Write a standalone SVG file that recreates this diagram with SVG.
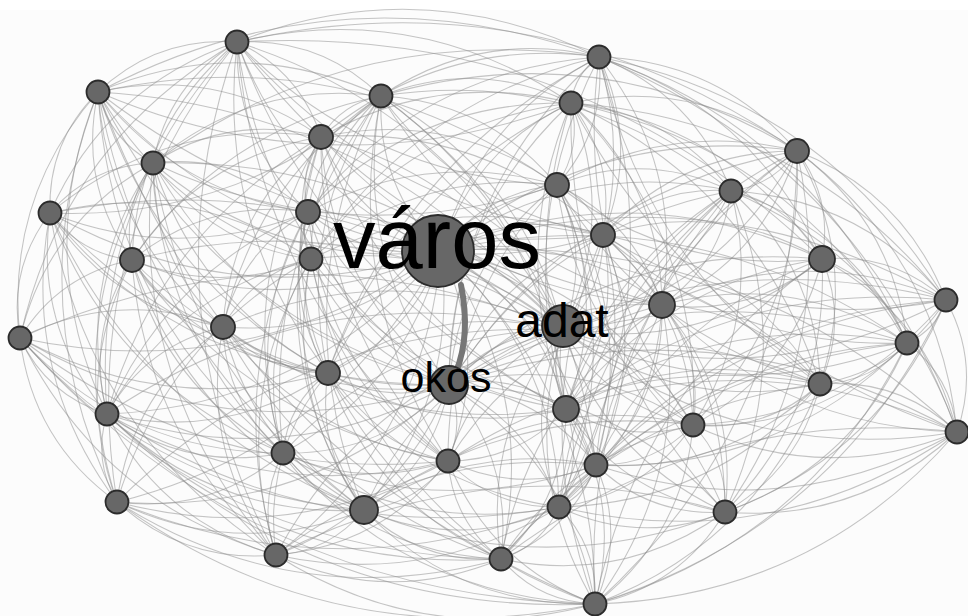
<svg xmlns="http://www.w3.org/2000/svg" xmlns:xlink="http://www.w3.org/1999/xlink" width="968" height="616" viewBox="0 0 968 616">
<style>
.bg{fill:#fcfcfc}
.ed use{stroke:#8c8c8c;stroke-opacity:.5}
.n circle{fill:#676767;stroke:#2b2b2b;stroke-width:1.8}
.lb{font-family:"Liberation Sans",Arial,sans-serif;fill:#000}
.hv{fill:none;stroke:#767676;stroke-width:6;stroke-linecap:round}
</style>
<defs>
<path id="e" d="M0 0Q.5 -.22 1 0" fill="none" stroke-width="1.05" vector-effect="non-scaling-stroke"/>
<path id="f" d="M0 0Q.5 .2 1 0" fill="none" stroke-width="1.05" vector-effect="non-scaling-stroke"/>
</defs>
<rect class="bg" x="0" y="0" width="968" height="616"/>
<rect x="0" y="0" width="968" height="10" fill="#fff"/>
<g id="connectors" class="ed">
<use href="#e" transform="matrix(139 -50 50 139 98 92)"/>
<use href="#e" transform="matrix(362 15 -15 362 237 42)"/>
<use href="#e" transform="matrix(144 54 -54 144 237 42)"/>
<use href="#e" transform="matrix(334 61 -61 334 237 42)"/>
<use href="#e" transform="matrix(84 95 -95 84 237 42)"/>
<use href="#e" transform="matrix(84 -121 121 84 153 163)"/>
<use href="#e" transform="matrix(560 109 -109 560 237 42)"/>
<use href="#e" transform="matrix(187 -171 171 187 50 213)"/>
<use href="#e" transform="matrix(-71 -170 170 -71 308 212)"/>
<use href="#e" transform="matrix(105 -218 218 105 132 260)"/>
<use href="#e" transform="matrix(585 217 -217 585 237 42)"/>
<use href="#e" transform="matrix(217 -296 296 217 20 338)"/>
<use href="#e" transform="matrix(130 -372 372 130 107 414)"/>
<use href="#e" transform="matrix(120 -460 460 120 117 502)"/>
<use href="#e" transform="matrix(-39 -513 513 -39 276 555)"/>
<use href="#e" transform="matrix(501 -35 35 501 98 92)"/>
<use href="#e" transform="matrix(283 4 -4 283 98 92)"/>
<use href="#e" transform="matrix(223 45 -45 223 98 92)"/>
<use href="#e" transform="matrix(-55 -71 71 -55 153 163)"/>
<use href="#e" transform="matrix(48 -121 121 48 50 213)"/>
<use href="#e" transform="matrix(459 93 -93 459 98 92)"/>
<use href="#e" transform="matrix(-34 -168 168 -34 132 260)"/>
<use href="#e" transform="matrix(-125 -235 235 -125 223 327)"/>
<use href="#e" transform="matrix(78 -246 246 78 20 338)"/>
<use href="#e" transform="matrix(-9 -322 322 -9 107 414)"/>
<use href="#e" transform="matrix(-19 -410 410 -19 117 502)"/>
<use href="#e" transform="matrix(-497 -512 512 -497 595 604)"/>
<use href="#e" transform="matrix(-185 -361 361 -185 283 453)"/>
<use href="#e" transform="matrix(218 -39 39 218 381 96)"/>
<use href="#e" transform="matrix(28 -46 46 28 571 103)"/>
<use href="#e" transform="matrix(198 94 -94 198 599 57)"/>
<use href="#e" transform="matrix(-42 128 -128 -42 599 57)"/>
<use href="#e" transform="matrix(132 134 -134 132 599 57)"/>
<use href="#e" transform="matrix(4 178 -178 4 599 57)"/>
<use href="#e" transform="matrix(223 202 -202 223 599 57)"/>
<use href="#e" transform="matrix(347 243 -243 347 599 57)"/>
<use href="#e" transform="matrix(278 -80 80 278 321 137)"/>
<use href="#e" transform="matrix(291 -155 155 291 308 212)"/>
<use href="#e" transform="matrix(63 248 -248 63 599 57)"/>
<use href="#e" transform="matrix(308 286 -286 308 599 57)"/>
<use href="#e" transform="matrix(358 375 -375 358 599 57)"/>
<use href="#e" transform="matrix(-40 450 -450 -40 599 57)"/>
<use href="#e" transform="matrix(190 7 -7 190 381 96)"/>
<use href="#e" transform="matrix(60 -41 41 60 321 137)"/>
<use href="#e" transform="matrix(228 -67 67 228 153 163)"/>
<use href="#e" transform="matrix(176 89 -89 176 381 96)"/>
<use href="#e" transform="matrix(73 -116 116 73 308 212)"/>
<use href="#e" transform="matrix(70 -163 163 70 311 259)"/>
<use href="#e" transform="matrix(53 -277 277 53 328 373)"/>
<use href="#e" transform="matrix(17 -414 414 17 364 510)"/>
<use href="#e" transform="matrix(416 55 -55 416 381 96)"/>
<use href="#e" transform="matrix(350 95 -95 350 381 96)"/>
<use href="#e" transform="matrix(185 313 -313 185 381 96)"/>
<use href="#e" transform="matrix(215 369 -369 215 381 96)"/>
<use href="#e" transform="matrix(226 48 -48 226 571 103)"/>
<use href="#e" transform="matrix(-14 82 -82 -14 571 103)"/>
<use href="#e" transform="matrix(160 88 -88 160 571 103)"/>
<use href="#e" transform="matrix(32 132 -132 32 571 103)"/>
<use href="#e" transform="matrix(251 156 -156 251 571 103)"/>
<use href="#e" transform="matrix(91 202 -202 91 571 103)"/>
<use href="#e" transform="matrix(375 197 -197 375 571 103)"/>
<use href="#e" transform="matrix(336 240 -240 336 571 103)"/>
<use href="#e" transform="matrix(249 281 -281 249 571 103)"/>
<use href="#e" transform="matrix(122 322 -322 122 571 103)"/>
<use href="#e" transform="matrix(263 -109 109 263 308 212)"/>
<use href="#e" transform="matrix(260 -156 156 260 311 259)"/>
<use href="#e" transform="matrix(168 -26 26 168 153 163)"/>
<use href="#e" transform="matrix(271 -76 76 271 50 213)"/>
<use href="#e" transform="matrix(13 -75 75 13 308 212)"/>
<use href="#e" transform="matrix(189 -123 123 189 132 260)"/>
<use href="#e" transform="matrix(10 -122 122 10 311 259)"/>
<use href="#e" transform="matrix(98 -190 190 98 223 327)"/>
<use href="#e" transform="matrix(38 -316 316 38 283 453)"/>
<use href="#e" transform="matrix(-43 -373 373 -43 364 510)"/>
<use href="#e" transform="matrix(236 48 -48 236 321 137)"/>
<use href="#e" transform="matrix(282 98 -98 282 321 137)"/>
<use href="#e" transform="matrix(103 -50 50 103 50 213)"/>
<use href="#e" transform="matrix(155 49 -49 155 153 163)"/>
<use href="#e" transform="matrix(21 -97 97 21 132 260)"/>
<use href="#e" transform="matrix(-70 -164 164 -70 223 327)"/>
<use href="#e" transform="matrix(133 -175 175 133 20 338)"/>
<use href="#e" transform="matrix(46 -251 251 46 107 414)"/>
<use href="#e" transform="matrix(36 -339 339 36 117 502)"/>
<use href="#e" transform="matrix(-158 -96 96 -158 311 259)"/>
<use href="#e" transform="matrix(-123 -392 392 -123 276 555)"/>
<use href="#e" transform="matrix(-66 40 -40 -66 797 151)"/>
<use href="#e" transform="matrix(25 108 -108 25 797 151)"/>
<use href="#e" transform="matrix(149 149 -149 149 797 151)"/>
<use href="#e" transform="matrix(110 192 -192 110 797 151)"/>
<use href="#e" transform="matrix(23 233 -233 23 797 151)"/>
<use href="#e" transform="matrix(160 281 -281 160 797 151)"/>
<use href="#e" transform="matrix(194 -84 84 194 603 235)"/>
<use href="#e" transform="matrix(-135 154 -154 -135 797 151)"/>
<use href="#e" transform="matrix(-104 274 -274 -104 797 151)"/>
<use href="#e" transform="matrix(-72 361 -361 -72 797 151)"/>
<use href="#e" transform="matrix(-202 453 -453 -202 797 151)"/>
<use href="#e" transform="matrix(-82 -47 47 -82 132 260)"/>
<use href="#e" transform="matrix(-173 -114 114 -173 223 327)"/>
<use href="#e" transform="matrix(30 -125 125 30 20 338)"/>
<use href="#e" transform="matrix(-57 -201 201 -57 107 414)"/>
<use href="#e" transform="matrix(-67 -289 289 -67 117 502)"/>
<use href="#e" transform="matrix(261 46 -46 261 50 213)"/>
<use href="#e" transform="matrix(-233 -240 240 -233 283 453)"/>
<use href="#e" transform="matrix(-226 -342 342 -226 276 555)"/>
<use href="#e" transform="matrix(174 6 -6 174 557 185)"/>
<use href="#e" transform="matrix(46 50 -50 46 557 185)"/>
<use href="#e" transform="matrix(246 -74 74 246 311 259)"/>
<use href="#e" transform="matrix(105 120 -120 105 557 185)"/>
<use href="#e" transform="matrix(9 224 -224 9 557 185)"/>
<use href="#e" transform="matrix(39 280 -280 39 557 185)"/>
<use href="#e" transform="matrix(2 322 -322 2 557 185)"/>
<use href="#e" transform="matrix(229 -188 188 229 328 373)"/>
<use href="#e" transform="matrix(128 -44 44 128 603 235)"/>
<use href="#e" transform="matrix(91 68 -68 91 731 191)"/>
<use href="#e" transform="matrix(-69 114 -114 -69 731 191)"/>
<use href="#e" transform="matrix(215 109 -109 215 731 191)"/>
<use href="#e" transform="matrix(176 152 -152 176 731 191)"/>
<use href="#e" transform="matrix(89 193 -193 89 731 191)"/>
<use href="#e" transform="matrix(-38 234 -234 -38 731 191)"/>
<use href="#e" transform="matrix(226 241 -241 226 731 191)"/>
<use href="#e" transform="matrix(-6 321 -321 -6 731 191)"/>
<use href="#e" transform="matrix(176 -48 48 176 132 260)"/>
<use href="#e" transform="matrix(-3 -47 47 -3 311 259)"/>
<use href="#e" transform="matrix(85 -115 115 85 223 327)"/>
<use href="#e" transform="matrix(-20 -161 161 -20 328 373)"/>
<use href="#e" transform="matrix(25 -241 241 25 283 453)"/>
<use href="#e" transform="matrix(-140 -249 249 -140 448 461)"/>
<use href="#e" transform="matrix(-56 -298 298 -56 364 510)"/>
<use href="#e" transform="matrix(219 24 -24 219 603 235)"/>
<use href="#e" transform="matrix(59 70 -70 59 603 235)"/>
<use href="#e" transform="matrix(217 149 -149 217 603 235)"/>
<use href="#e" transform="matrix(-37 174 -174 -37 603 235)"/>
<use href="#e" transform="matrix(90 190 -190 90 603 235)"/>
<use href="#e" transform="matrix(-7 230 -230 -7 603 235)"/>
<use href="#e" transform="matrix(-44 272 -272 -44 603 235)"/>
<use href="#e" transform="matrix(122 277 -277 122 603 235)"/>
<use href="#e" transform="matrix(-91 -67 67 -91 223 327)"/>
<use href="#e" transform="matrix(112 -78 78 112 20 338)"/>
<use href="#e" transform="matrix(-196 -113 113 -196 328 373)"/>
<use href="#e" transform="matrix(25 -154 154 25 107 414)"/>
<use href="#e" transform="matrix(-151 -193 193 -151 283 453)"/>
<use href="#e" transform="matrix(15 -242 242 15 117 502)"/>
<use href="#e" transform="matrix(-232 -250 250 -232 364 510)"/>
<use href="#e" transform="matrix(88 -68 68 88 223 327)"/>
<use href="#e" transform="matrix(-17 -114 114 -17 328 373)"/>
<use href="#e" transform="matrix(204 -155 155 204 107 414)"/>
<use href="#e" transform="matrix(28 -194 194 28 283 453)"/>
<use href="#e" transform="matrix(-137 -202 202 -137 448 461)"/>
<use href="#e" transform="matrix(-53 -251 251 -53 364 510)"/>
<use href="#e" transform="matrix(35 -296 296 35 276 555)"/>
<use href="#e" transform="matrix(124 41 -41 124 822 259)"/>
<use href="#e" transform="matrix(85 84 -84 85 822 259)"/>
<use href="#e" transform="matrix(-2 125 -125 -2 822 259)"/>
<use href="#e" transform="matrix(-129 166 -166 -129 822 259)"/>
<use href="#e" transform="matrix(135 173 -173 135 822 259)"/>
<use href="#e" transform="matrix(-97 253 -253 -97 822 259)"/>
<use href="#e" transform="matrix(-160 46 -46 -160 822 259)"/>
<use href="#e" transform="matrix(284 -5 5 284 662 305)"/>
<use href="#e" transform="matrix(245 38 -38 245 662 305)"/>
<use href="#e" transform="matrix(158 79 -79 158 662 305)"/>
<use href="#e" transform="matrix(-96 104 -104 -96 662 305)"/>
<use href="#e" transform="matrix(31 120 -120 31 662 305)"/>
<use href="#e" transform="matrix(-66 160 -160 -66 662 305)"/>
<use href="#e" transform="matrix(-103 202 -202 -103 662 305)"/>
<use href="#e" transform="matrix(63 207 -207 63 662 305)"/>
<use href="#e" transform="matrix(-67 299 -299 -67 662 305)"/>
<use href="#e" transform="matrix(-39 43 -43 -39 946 300)"/>
<use href="#e" transform="matrix(-126 84 -84 -126 946 300)"/>
<use href="#e" transform="matrix(11 132 -132 11 946 300)"/>
<use href="#e" transform="matrix(-253 125 -125 -253 946 300)"/>
<use href="#e" transform="matrix(-221 212 -212 -221 946 300)"/>
<use href="#e" transform="matrix(-351 304 -304 -351 946 300)"/>
<use href="#e" transform="matrix(203 -11 11 203 20 338)"/>
<use href="#e" transform="matrix(-105 -46 46 -105 328 373)"/>
<use href="#e" transform="matrix(116 -87 87 116 107 414)"/>
<use href="#e" transform="matrix(-60 -126 126 -60 283 453)"/>
<use href="#e" transform="matrix(106 -175 175 106 117 502)"/>
<use href="#e" transform="matrix(-141 -183 183 -141 364 510)"/>
<use href="#e" transform="matrix(-53 -228 228 -53 276 555)"/>
<use href="#e" transform="matrix(-87 41 -41 -87 907 343)"/>
<use href="#e" transform="matrix(50 89 -89 50 907 343)"/>
<use href="#e" transform="matrix(-214 82 -82 -214 907 343)"/>
<use href="#e" transform="matrix(-182 169 -169 -182 907 343)"/>
<use href="#e" transform="matrix(-312 261 -261 -312 907 343)"/>
<use href="#e" transform="matrix(-311 122 -122 -311 907 343)"/>
<use href="#e" transform="matrix(-87 -76 76 -87 107 414)"/>
<use href="#e" transform="matrix(-97 -164 164 -97 117 502)"/>
<use href="#e" transform="matrix(-256 -217 217 -256 276 555)"/>
<use href="#e" transform="matrix(-263 -115 115 -263 283 453)"/>
<use href="#e" transform="matrix(-481 -221 221 -481 501 559)"/>
<use href="#e" transform="matrix(-575 -266 266 -575 595 604)"/>
<use href="#e" transform="matrix(-221 41 -41 -221 328 373)"/>
<use href="#e" transform="matrix(45 -80 80 45 283 453)"/>
<use href="#e" transform="matrix(-120 -88 88 -120 448 461)"/>
<use href="#e" transform="matrix(-36 -137 137 -36 364 510)"/>
<use href="#e" transform="matrix(52 -182 182 52 276 555)"/>
<use href="#e" transform="matrix(-173 -186 186 -173 501 559)"/>
<use href="#e" transform="matrix(-127 41 -41 -127 820 384)"/>
<use href="#e" transform="matrix(137 48 -48 137 820 384)"/>
<use href="#e" transform="matrix(-95 128 -128 -95 820 384)"/>
<use href="#e" transform="matrix(-225 220 -220 -225 820 384)"/>
<use href="#e" transform="matrix(-224 81 -81 -224 820 384)"/>
<use href="#e" transform="matrix(-261 123 -123 -261 820 384)"/>
<use href="#e" transform="matrix(-176 -39 39 -176 283 453)"/>
<use href="#e" transform="matrix(-10 -88 88 -10 117 502)"/>
<use href="#e" transform="matrix(-169 -141 141 -169 276 555)"/>
<use href="#e" transform="matrix(-257 -96 96 -257 364 510)"/>
<use href="#e" transform="matrix(-394 -145 145 -394 501 559)"/>
<use href="#e" transform="matrix(-488 -190 190 -488 595 604)"/>
<use href="#e" transform="matrix(-127 -16 16 -127 693 425)"/>
<use href="#e" transform="matrix(30 56 -56 30 566 409)"/>
<use href="#e" transform="matrix(-7 98 -98 -7 566 409)"/>
<use href="#e" transform="matrix(-159 -103 103 -159 725 512)"/>
<use href="#e" transform="matrix(-65 150 -150 -65 566 409)"/>
<use href="#e" transform="matrix(-118 52 -52 -118 566 409)"/>
<use href="#e" transform="matrix(29 195 -195 29 566 409)"/>
<use href="#e" transform="matrix(-264 -7 7 -264 957 432)"/>
<use href="#e" transform="matrix(-97 40 -40 -97 693 425)"/>
<use href="#e" transform="matrix(-134 82 -82 -134 693 425)"/>
<use href="#e" transform="matrix(32 87 -87 32 693 425)"/>
<use href="#e" transform="matrix(-98 179 -179 -98 693 425)"/>
<use href="#e" transform="matrix(-232 80 -80 -232 957 432)"/>
<use href="#e" transform="matrix(-362 172 -172 -362 957 432)"/>
<use href="#e" transform="matrix(-361 33 -33 -361 957 432)"/>
<use href="#e" transform="matrix(-398 75 -75 -398 957 432)"/>
<use href="#e" transform="matrix(-166 49 -49 -166 283 453)"/>
<use href="#e" transform="matrix(-81 -57 57 -81 364 510)"/>
<use href="#e" transform="matrix(7 -102 102 7 276 555)"/>
<use href="#e" transform="matrix(-218 -106 106 -218 501 559)"/>
<use href="#e" transform="matrix(-312 -151 151 -312 595 604)"/>
<use href="#e" transform="matrix(-84 49 -49 -84 448 461)"/>
<use href="#e" transform="matrix(-111 -46 46 -111 559 507)"/>
<use href="#e" transform="matrix(-172 94 -94 -172 448 461)"/>
<use href="#e" transform="matrix(-53 -98 98 -53 501 559)"/>
<use href="#e" transform="matrix(-147 -143 143 -147 595 604)"/>
<use href="#e" transform="matrix(-148 -4 4 -148 596 465)"/>
<use href="#e" transform="matrix(-37 42 -42 -37 596 465)"/>
<use href="#e" transform="matrix(-129 -47 47 -129 725 512)"/>
<use href="#e" transform="matrix(-95 94 -94 -95 596 465)"/>
<use href="#e" transform="matrix(-1 139 -139 -1 596 465)"/>
<use href="#e" transform="matrix(-159 -53 53 -159 276 555)"/>
<use href="#e" transform="matrix(-384 -57 57 -384 501 559)"/>
<use href="#e" transform="matrix(-478 -102 102 -478 595 604)"/>
<use href="#e" transform="matrix(-247 -8 8 -247 364 510)"/>
<use href="#e" transform="matrix(-88 45 -45 -88 364 510)"/>
<use href="#e" transform="matrix(-137 -49 49 -137 501 559)"/>
<use href="#e" transform="matrix(-231 -94 94 -231 595 604)"/>
<use href="#e" transform="matrix(-195 3 -3 -195 559 507)"/>
<use href="#e" transform="matrix(-166 -5 5 -166 725 512)"/>
<use href="#e" transform="matrix(-58 52 -52 -58 559 507)"/>
<use href="#e" transform="matrix(36 97 -97 36 559 507)"/>
<use href="#e" transform="matrix(-224 47 -47 -224 725 512)"/>
<use href="#e" transform="matrix(-130 92 -92 -130 725 512)"/>
<use href="#e" transform="matrix(-225 -4 4 -225 501 559)"/>
<use href="#e" transform="matrix(-319 -49 49 -319 595 604)"/>
<use href="#e" transform="matrix(-94 -45 45 -94 595 604)"/>
<use href="#e" transform="matrix(-204 -209 209 -204 441 251)"/>
<use href="#e" transform="matrix(-343 -159 159 -343 441 251)"/>
<use href="#e" transform="matrix(158 -194 194 158 441 251)"/>
<use href="#e" transform="matrix(-60 -155 155 -60 441 251)"/>
<use href="#e" transform="matrix(130 -148 148 130 441 251)"/>
<use href="#e" transform="matrix(-120 -114 114 -120 441 251)"/>
<use href="#e" transform="matrix(-288 -88 88 -288 441 251)"/>
<use href="#e" transform="matrix(356 -100 100 356 441 251)"/>
<use href="#e" transform="matrix(-391 -38 38 -391 441 251)"/>
<use href="#e" transform="matrix(116 -66 66 116 441 251)"/>
<use href="#e" transform="matrix(290 -60 60 290 441 251)"/>
<use href="#e" transform="matrix(-133 -39 39 -133 441 251)"/>
<use href="#e" transform="matrix(162 -16 16 162 441 251)"/>
<use href="#e" transform="matrix(-309 9 -9 -309 441 251)"/>
<use href="#e" transform="matrix(-130 8 -8 -130 441 251)"/>
<use href="#e" transform="matrix(381 8 -8 381 441 251)"/>
<use href="#e" transform="matrix(221 54 -54 221 441 251)"/>
<use href="#e" transform="matrix(122 79 -79 122 441 251)"/>
<use href="#e" transform="matrix(505 49 -49 505 441 251)"/>
<use href="#e" transform="matrix(-218 76 -76 -218 441 251)"/>
<use href="#e" transform="matrix(466 92 -92 466 441 251)"/>
<use href="#e" transform="matrix(-421 87 -87 -421 441 251)"/>
<use href="#e" transform="matrix(-113 122 -122 -113 441 251)"/>
<use href="#e" transform="matrix(379 133 -133 379 441 251)"/>
<use href="#e" transform="matrix(-334 163 -163 -334 441 251)"/>
<use href="#e" transform="matrix(125 158 -158 125 441 251)"/>
<use href="#e" transform="matrix(252 174 -174 252 441 251)"/>
<use href="#e" transform="matrix(516 181 -181 516 441 251)"/>
<use href="#e" transform="matrix(-158 202 -202 -158 441 251)"/>
<use href="#e" transform="matrix(7 210 -210 7 441 251)"/>
<use href="#e" transform="matrix(155 214 -214 155 441 251)"/>
<use href="#e" transform="matrix(-324 251 -251 -324 441 251)"/>
<use href="#e" transform="matrix(-77 259 -259 -77 441 251)"/>
<use href="#e" transform="matrix(118 256 -256 118 441 251)"/>
<use href="#e" transform="matrix(284 261 -261 284 441 251)"/>
<use href="#e" transform="matrix(-165 304 -304 -165 441 251)"/>
<use href="#e" transform="matrix(60 308 -308 60 441 251)"/>
<use href="#e" transform="matrix(154 353 -353 154 441 251)"/>
<use href="#e" transform="matrix(326 288 -288 326 237 42)"/>
<use href="#e" transform="matrix(465 238 -238 465 98 92)"/>
<use href="#e" transform="matrix(-36 273 -273 -36 599 57)"/>
<use href="#e" transform="matrix(182 234 -234 182 381 96)"/>
<use href="#e" transform="matrix(-8 227 -227 -8 571 103)"/>
<use href="#e" transform="matrix(242 193 -193 242 321 137)"/>
<use href="#e" transform="matrix(410 167 -167 410 153 163)"/>
<use href="#e" transform="matrix(-234 179 -179 -234 797 151)"/>
<use href="#e" transform="matrix(513 117 -117 513 50 213)"/>
<use href="#e" transform="matrix(6 145 -145 6 557 185)"/>
<use href="#e" transform="matrix(-168 139 -139 -168 731 191)"/>
<use href="#e" transform="matrix(255 118 -118 255 308 212)"/>
<use href="#e" transform="matrix(-40 95 -95 -40 603 235)"/>
<use href="#e" transform="matrix(431 70 -70 431 132 260)"/>
<use href="#e" transform="matrix(252 71 -71 252 311 259)"/>
<use href="#e" transform="matrix(-259 71 -71 -259 822 259)"/>
<use href="#e" transform="matrix(-99 25 -25 -99 662 305)"/>
<use href="#e" transform="matrix(-383 30 -30 -383 946 300)"/>
<use href="#e" transform="matrix(340 3 -3 340 223 327)"/>
<use href="#e" transform="matrix(-344 -13 13 -344 907 343)"/>
<use href="#e" transform="matrix(543 -8 8 543 20 338)"/>
<use href="#e" transform="matrix(235 -43 43 235 328 373)"/>
<use href="#e" transform="matrix(-257 -54 54 -257 820 384)"/>
<use href="#e" transform="matrix(456 -84 84 456 107 414)"/>
<use href="#e" transform="matrix(-3 -79 79 -3 566 409)"/>
<use href="#e" transform="matrix(-130 -95 95 -130 693 425)"/>
<use href="#e" transform="matrix(-394 -102 102 -394 957 432)"/>
<use href="#e" transform="matrix(280 -123 123 280 283 453)"/>
<use href="#e" transform="matrix(115 -131 131 115 448 461)"/>
<use href="#e" transform="matrix(-33 -135 135 -33 596 465)"/>
<use href="#e" transform="matrix(446 -172 172 446 117 502)"/>
<use href="#e" transform="matrix(199 -180 180 199 364 510)"/>
<use href="#e" transform="matrix(4 -177 177 4 559 507)"/>
<use href="#e" transform="matrix(-162 -182 182 -162 725 512)"/>
<use href="#e" transform="matrix(287 -225 225 287 276 555)"/>
<use href="#e" transform="matrix(62 -229 229 62 501 559)"/>
<use href="#e" transform="matrix(-32 -274 274 -32 595 604)"/>
<use href="#e" transform="matrix(-212 -343 343 -212 449 385)"/>
<use href="#e" transform="matrix(-351 -293 293 -351 449 385)"/>
<use href="#e" transform="matrix(150 -328 328 150 449 385)"/>
<use href="#e" transform="matrix(-68 -289 289 -68 449 385)"/>
<use href="#e" transform="matrix(122 -282 282 122 449 385)"/>
<use href="#e" transform="matrix(-128 -248 248 -128 449 385)"/>
<use href="#e" transform="matrix(-296 -222 222 -296 449 385)"/>
<use href="#e" transform="matrix(348 -234 234 348 449 385)"/>
<use href="#e" transform="matrix(-399 -172 172 -399 449 385)"/>
<use href="#e" transform="matrix(108 -200 200 108 449 385)"/>
<use href="#e" transform="matrix(282 -194 194 282 449 385)"/>
<use href="#e" transform="matrix(-141 -173 173 -141 449 385)"/>
<use href="#e" transform="matrix(154 -150 150 154 449 385)"/>
<use href="#e" transform="matrix(-317 -125 125 -317 449 385)"/>
<use href="#e" transform="matrix(-138 -126 126 -138 449 385)"/>
<use href="#e" transform="matrix(373 -126 126 373 449 385)"/>
<use href="#e" transform="matrix(213 -80 80 213 449 385)"/>
<use href="#e" transform="matrix(114 -55 55 114 449 385)"/>
<use href="#e" transform="matrix(497 -85 85 497 449 385)"/>
<use href="#e" transform="matrix(-226 -58 58 -226 449 385)"/>
<use href="#e" transform="matrix(458 -42 42 458 449 385)"/>
<use href="#e" transform="matrix(-429 -47 47 -429 449 385)"/>
<use href="#e" transform="matrix(-121 -12 12 -121 449 385)"/>
<use href="#e" transform="matrix(371 -1 1 371 449 385)"/>
<use href="#e" transform="matrix(-342 29 -29 -342 449 385)"/>
<use href="#e" transform="matrix(117 24 -24 117 449 385)"/>
<use href="#e" transform="matrix(244 40 -40 244 449 385)"/>
<use href="#e" transform="matrix(508 47 -47 508 449 385)"/>
<use href="#e" transform="matrix(-166 68 -68 -166 449 385)"/>
<use href="#e" transform="matrix(-1 76 -76 -1 449 385)"/>
<use href="#e" transform="matrix(147 80 -80 147 449 385)"/>
<use href="#e" transform="matrix(-332 117 -117 -332 449 385)"/>
<use href="#e" transform="matrix(-85 125 -125 -85 449 385)"/>
<use href="#e" transform="matrix(110 122 -122 110 449 385)"/>
<use href="#e" transform="matrix(276 127 -127 276 449 385)"/>
<use href="#e" transform="matrix(-173 170 -170 -173 449 385)"/>
<use href="#e" transform="matrix(52 174 -174 52 449 385)"/>
<use href="#e" transform="matrix(146 219 -219 146 449 385)"/>
<use href="#f" transform="matrix(366 193 -193 366 237 42)"/>
<use href="#f" transform="matrix(425 263 -263 425 237 42)"/>
<use href="#f" transform="matrix(91 331 -331 91 237 42)"/>
<use href="#f" transform="matrix(329 367 -367 329 237 42)"/>
<use href="#f" transform="matrix(211 419 -419 211 237 42)"/>
<use href="#f" transform="matrix(320 143 -143 320 237 42)"/>
<use href="#f" transform="matrix(210 120 -120 210 98 92)"/>
<use href="#f" transform="matrix(213 167 -167 213 98 92)"/>
<use href="#f" transform="matrix(230 281 -281 230 98 92)"/>
<use href="#f" transform="matrix(473 11 -11 473 98 92)"/>
<use href="#f" transform="matrix(505 143 -143 505 98 92)"/>
<use href="#f" transform="matrix(266 418 -418 266 98 92)"/>
<use href="#f" transform="matrix(-288 202 -202 -288 599 57)"/>
<use href="#f" transform="matrix(-271 316 -316 -271 599 57)"/>
<use href="#f" transform="matrix(-33 352 -352 -33 599 57)"/>
<use href="#f" transform="matrix(221 327 -327 221 599 57)"/>
<use href="#f" transform="matrix(94 368 -368 94 599 57)"/>
<use href="#f" transform="matrix(-446 106 -106 -446 599 57)"/>
<use href="#f" transform="matrix(222 139 -139 222 381 96)"/>
<use href="#f" transform="matrix(281 209 -209 281 381 96)"/>
<use href="#f" transform="matrix(-158 231 -231 -158 381 96)"/>
<use href="#f" transform="matrix(-98 357 -357 -98 381 96)"/>
<use href="#f" transform="matrix(-249 164 -164 -249 381 96)"/>
<use href="#f" transform="matrix(67 365 -365 67 381 96)"/>
<use href="#f" transform="matrix(-243 270 -270 -243 571 103)"/>
<use href="#f" transform="matrix(-5 306 -306 -5 571 103)"/>
<use href="#f" transform="matrix(25 362 -362 25 571 103)"/>
<use href="#f" transform="matrix(154 409 -409 154 571 103)"/>
<use href="#f" transform="matrix(-250 34 -34 -250 571 103)"/>
<use href="#f" transform="matrix(386 329 -329 386 571 103)"/>
<use href="#f" transform="matrix(341 168 -168 341 321 137)"/>
<use href="#f" transform="matrix(7 236 -236 7 321 137)"/>
<use href="#f" transform="matrix(245 272 -272 245 321 137)"/>
<use href="#f" transform="matrix(-214 277 -277 -214 321 137)"/>
<use href="#f" transform="matrix(127 324 -324 127 321 137)"/>
<use href="#f" transform="matrix(175 210 -210 175 153 163)"/>
<use href="#f" transform="matrix(130 290 -290 130 153 163)"/>
<use href="#f" transform="matrix(404 22 -22 404 153 163)"/>
<use href="#f" transform="matrix(211 347 -347 211 153 163)"/>
<use href="#f" transform="matrix(-240 34 -34 -240 797 151)"/>
<use href="#f" transform="matrix(-231 258 -258 -231 797 151)"/>
<use href="#f" transform="matrix(-201 314 -314 -201 797 151)"/>
<use href="#f" transform="matrix(-238 356 -356 -238 797 151)"/>
<use href="#f" transform="matrix(258 -1 1 258 50 213)"/>
<use href="#f" transform="matrix(278 160 -160 278 50 213)"/>
<use href="#f" transform="matrix(314 297 -297 314 50 213)"/>
<use href="#f" transform="matrix(331 -117 117 331 50 213)"/>
<use href="#f" transform="matrix(263 199 -199 263 557 185)"/>
<use href="#f" transform="matrix(136 240 -240 136 557 185)"/>
<use href="#f" transform="matrix(-109 276 -276 -109 557 185)"/>
<use href="#f" transform="matrix(-249 27 -27 -249 557 185)"/>
<use href="#f" transform="matrix(265 74 -74 265 557 185)"/>
<use href="#f" transform="matrix(-165 218 -218 -165 731 191)"/>
<use href="#f" transform="matrix(-135 274 -274 -135 731 191)"/>
<use href="#f" transform="matrix(-172 316 -316 -172 731 191)"/>
<use href="#f" transform="matrix(-136 413 -413 -136 731 191)"/>
<use href="#f" transform="matrix(258 197 -197 258 308 212)"/>
<use href="#f" transform="matrix(-201 202 -202 -201 308 212)"/>
<use href="#f" transform="matrix(-32 343 -343 -32 308 212)"/>
<use href="#f" transform="matrix(295 23 -23 295 308 212)"/>
<use href="#f" transform="matrix(343 65 -65 343 603 235)"/>
<use href="#f" transform="matrix(304 108 -108 304 603 235)"/>
<use href="#f" transform="matrix(-292 24 -24 -292 603 235)"/>
<use href="#f" transform="matrix(-8 369 -369 -8 603 235)"/>
<use href="#f" transform="matrix(179 -1 1 179 132 260)"/>
<use href="#f" transform="matrix(144 295 -295 144 132 260)"/>
<use href="#f" transform="matrix(316 201 -201 316 132 260)"/>
<use href="#f" transform="matrix(255 150 -150 255 311 259)"/>
<use href="#f" transform="matrix(-194 243 -243 -194 311 259)"/>
<use href="#f" transform="matrix(190 300 -300 190 311 259)"/>
<use href="#f" transform="matrix(-256 150 -150 -256 822 259)"/>
<use href="#f" transform="matrix(-226 206 -206 -226 822 259)"/>
<use href="#f" transform="matrix(-227 345 -345 -227 822 259)"/>
<use href="#f" transform="matrix(-214 156 -156 -214 662 305)"/>
<use href="#f" transform="matrix(-161 254 -254 -161 662 305)"/>
<use href="#f" transform="matrix(295 127 -127 295 662 305)"/>
<use href="#f" transform="matrix(-350 165 -165 -350 946 300)"/>
<use href="#f" transform="matrix(-387 207 -207 -387 946 300)"/>
<use href="#f" transform="matrix(-380 109 -109 -380 946 300)"/>
<use href="#f" transform="matrix(225 134 -134 225 223 327)"/>
<use href="#f" transform="matrix(278 232 -232 278 223 327)"/>
<use href="#f" transform="matrix(343 82 -82 343 223 327)"/>
<use href="#f" transform="matrix(-348 164 -164 -348 907 343)"/>
<use href="#f" transform="matrix(-341 66 -66 -341 907 343)"/>
<use href="#f" transform="matrix(-406 216 -216 -406 907 343)"/>
<use href="#f" transform="matrix(308 35 -35 308 20 338)"/>
<use href="#f" transform="matrix(344 172 -172 344 20 338)"/>
<use href="#f" transform="matrix(428 123 -123 428 20 338)"/>
<use href="#f" transform="matrix(231 134 -134 231 328 373)"/>
<use href="#f" transform="matrix(238 36 -36 238 328 373)"/>
<use href="#f" transform="matrix(267 231 -231 267 328 373)"/>
<use href="#f" transform="matrix(-254 25 -25 -254 820 384)"/>
<use href="#f" transform="matrix(-319 175 -175 -319 820 384)"/>
<use href="#f" transform="matrix(-372 77 -77 -372 820 384)"/>
<use href="#f" transform="matrix(341 47 -47 341 107 414)"/>
<use href="#f" transform="matrix(452 93 -93 452 107 414)"/>
<use href="#f" transform="matrix(-245 36 -36 -245 693 425)"/>
<use href="#f" transform="matrix(-192 134 -134 -192 693 425)"/>
<use href="#f" transform="matrix(-329 85 -85 -329 693 425)"/>
<use href="#f" transform="matrix(-456 127 -127 -456 957 432)"/>
<use href="#f" transform="matrix(-391 -23 23 -391 957 432)"/>
<use href="#f" transform="matrix(165 8 -8 165 283 453)"/>
<use href="#f" transform="matrix(276 54 -54 276 283 453)"/>
<use href="#f" transform="matrix(313 12 -12 313 283 453)"/>
<use href="#f" transform="matrix(-232 45 -45 -232 596 465)"/>
<use href="#f" transform="matrix(-320 90 -90 -320 596 465)"/>
<use href="#f" transform="matrix(442 5 -5 442 117 502)"/>
<use href="#f" transform="matrix(331 -41 41 331 117 502)"/>
<use href="#f" transform="matrix(361 2 -2 361 364 510)"/>
<use href="#f" transform="matrix(-449 43 -43 -449 725 512)"/>
<use href="#f" transform="matrix(283 -48 48 283 276 555)"/>
<path class="hv" d="M461 285Q471 335 456 372"/>
</g>
<g id="n1" class="n"><circle cx="237" cy="42" r="11.5"/></g>
<g id="n2" class="n"><circle cx="98" cy="92" r="11.5"/></g>
<g id="n3" class="n"><circle cx="599" cy="57" r="11.5"/></g>
<g id="n4" class="n"><circle cx="381" cy="96" r="11.5"/></g>
<g id="n5" class="n"><circle cx="571" cy="103" r="11.5"/></g>
<g id="n6" class="n"><circle cx="321" cy="137" r="12"/></g>
<g id="n7" class="n"><circle cx="153" cy="163" r="11.5"/></g>
<g id="n8" class="n"><circle cx="797" cy="151" r="12"/></g>
<g id="n9" class="n"><circle cx="50" cy="213" r="11.5"/></g>
<g id="n10" class="n"><circle cx="557" cy="185" r="12"/></g>
<g id="n11" class="n"><circle cx="731" cy="191" r="11.5"/></g>
<g id="n12" class="n"><circle cx="308" cy="212" r="12"/></g>
<g id="n13" class="n"><circle cx="603" cy="235" r="12"/></g>
<g id="n15" class="n"><circle cx="132" cy="260" r="12"/></g>
<g id="n16" class="n"><circle cx="311" cy="259" r="11.5"/></g>
<g id="n17" class="n"><circle cx="822" cy="259" r="13"/></g>
<g id="n18" class="n"><circle cx="662" cy="305" r="13"/></g>
<g id="n20" class="n"><circle cx="946" cy="300" r="11.5"/></g>
<g id="n21" class="n"><circle cx="223" cy="327" r="12"/></g>
<g id="n22" class="n"><circle cx="907" cy="343" r="11.5"/></g>
<g id="n23" class="n"><circle cx="20" cy="338" r="11.5"/></g>
<g id="n24" class="n"><circle cx="328" cy="373" r="12"/></g>
<g id="n26" class="n"><circle cx="820" cy="384" r="11.5"/></g>
<g id="n27" class="n"><circle cx="107" cy="414" r="11.5"/></g>
<g id="n28" class="n"><circle cx="566" cy="409" r="13"/></g>
<g id="n29" class="n"><circle cx="693" cy="425" r="11.5"/></g>
<g id="n30" class="n"><circle cx="957" cy="432" r="11.5"/></g>
<g id="n31" class="n"><circle cx="283" cy="453" r="11.5"/></g>
<g id="n32" class="n"><circle cx="448" cy="461" r="11.5"/></g>
<g id="n33" class="n"><circle cx="596" cy="465" r="11.5"/></g>
<g id="n34" class="n"><circle cx="117" cy="502" r="11.5"/></g>
<g id="n35" class="n"><circle cx="364" cy="510" r="14"/></g>
<g id="n36" class="n"><circle cx="559" cy="507" r="11.5"/></g>
<g id="n37" class="n"><circle cx="725" cy="512" r="11.5"/></g>
<g id="n38" class="n"><circle cx="276" cy="555" r="11.5"/></g>
<g id="n39" class="n"><circle cx="501" cy="559" r="11.5"/></g>
<g id="n40" class="n"><circle cx="595" cy="604" r="11.5"/></g>
<g id="okos" class="n"><circle cx="449" cy="385" r="19"/><text class="lb" x="446" y="392" font-size="43" text-anchor="middle">okos</text></g>
<g id="adat" class="n"><circle cx="563" cy="326" r="21"/><text class="lb" x="562" y="337" font-size="48" text-anchor="middle">adat</text></g>
<g id="varos" class="n"><circle cx="438" cy="251" r="36"/><text class="lb" x="437" y="268" font-size="85" text-anchor="middle">város</text></g>
</svg>
